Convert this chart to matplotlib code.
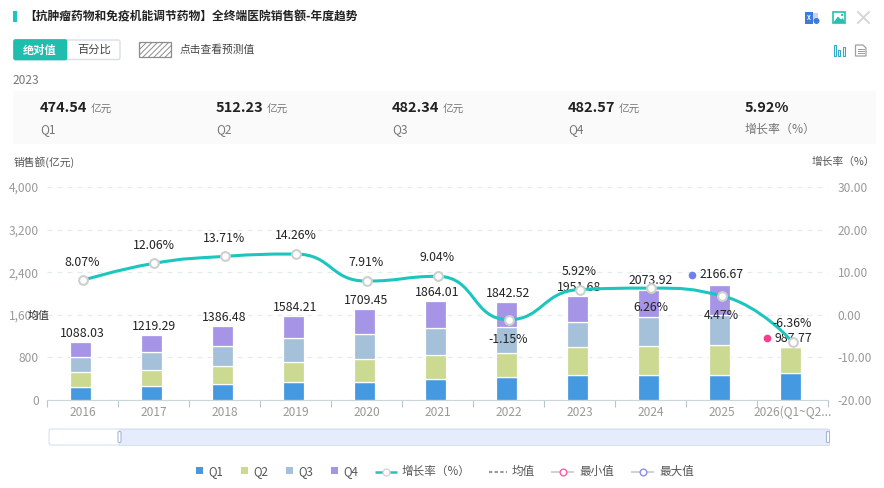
import numpy as np
import matplotlib
matplotlib.use("Agg")
import matplotlib.pyplot as plt
from matplotlib.patches import Rectangle, FancyBboxPatch, Circle, Polygon
from matplotlib.path import Path
from matplotlib.patches import PathPatch

plt.rcParams['font.family'] = ['Noto Sans CJK SC', 'DejaVu Sans']
plt.rcParams['hatch.linewidth'] = 0.7

# ---------- data ----------
years = ['2016', '2017', '2018', '2019', '2020', '2021', '2022', '2023', '2024', '2025', '2026(Q1~Q2...']
q1 = [245, 262, 300, 330, 340, 394, 432, 474.54, 465, 475, 505]
q2 = [275, 302, 345, 390, 425, 450, 457, 512.23, 553, 558, 482.77]
q3 = [290, 340, 376, 440, 470, 513, 488, 482.34, 535, 570, 0]
q4 = [278, 315.29, 365.48, 424.21, 474.45, 507.01, 465.52, 482.57, 520.92, 563.67, 0]
totals = ['1088.03', '1219.29', '1386.48', '1584.21', '1709.45', '1864.01', '1842.52',
          '1951.68', '2073.92', '2166.67', '987.77']
growth = [8.07, 12.06, 13.71, 14.26, 7.91, 9.04, -1.15, 5.92, 6.26, 4.47, -6.36]
left_ticks = [0, 800, 1600, 2400, 3200, 4000]
right_ticks = [-20, -10, 0, 10, 20, 30]
stat_values = ['474.54', '512.23', '482.34', '482.57', '5.92%']
stat_names = ['Q1', 'Q2', 'Q3', 'Q4', '增长率（%）']
mean_label = '均值'
TITLE = '【抗肿瘤药物和免疫机能调节药物】全终端医院销售额-年度趋势'

# ---------- style ----------
W, H = 884, 488
TEAL = '#1CC6BE'
BAR = ['#4599E0', '#CBD991', '#A5C0D9', '#A695E6']
GREY = '#999999'
DARK = '#222222'
def fs(px):
    return px * 0.72

fig = plt.figure(figsize=(W / 100, H / 100), dpi=100, facecolor='white')
L, R, T, B = 47, 828, 187, 400
ax = fig.add_axes([L / W, 1 - B / H, (R - L) / W, (B - T) / H], zorder=2)
ax.patch.set_alpha(0)
ax2 = ax.twinx()
ax2.set_zorder(3)
ax2.patch.set_alpha(0)

# ---------- bars ----------
x = np.arange(len(years))
bottom = np.zeros(len(years))
for vals, c in zip([q1, q2, q3, q4], BAR):
    v = np.array(vals, float)
    ax.bar(x - 0.03, v, 0.296, bottom=bottom, color=c, edgecolor='white', linewidth=0.9, zorder=3)
    bottom += v
ax.set_xlim(-0.5, len(years) - 0.5)
ax.set_ylim(0, 4000)
ax2.set_ylim(-20, 30)

ax.set_yticks(left_ticks)
ax.set_yticklabels([f'{t:,}' for t in left_ticks])
ax2.set_yticks(right_ticks)
ax2.set_yticklabels([f'{t:.2f}' for t in right_ticks])
ax.tick_params(axis='y', length=0, pad=6, labelsize=fs(12), labelcolor=GREY)
ax2.tick_params(axis='y', length=0, pad=7, labelsize=fs(12), labelcolor=GREY)
ax.set_xticks(x)
ax.set_xticklabels(years)
ax.tick_params(axis='x', length=0, pad=4, labelsize=fs(12), labelcolor=GREY)
ax.set_xticks(np.arange(len(years) + 1) - 0.5, minor=True)
ax.tick_params(axis='x', which='minor', length=5, width=0.8, color='#B9C6CC')
for a in (ax, ax2):
    for s in a.spines.values():
        s.set_visible(False)
ax.spines['bottom'].set_visible(True)
ax.spines['bottom'].set_color('#CBD6DA')
ax.grid(axis='y', color='#E6ECEC', linestyle=(0, (4, 4)), linewidth=0.9, zorder=0)
ax.set_axisbelow(True)

# ---------- smooth growth curve (ECharts style bezier through the points) ----------
sx = (R - L) / len(years)
sy = (B - T) / 50.0
def smooth_path(xs, ys, smooth=0.5):
    px = np.array(xs, float) * sx
    py = np.array(ys, float) * sy
    n = len(px)
    verts = [(px[0], py[0])]
    codes = [Path.MOVETO]
    cp0 = (px[0], py[0])
    for i in range(n - 1):
        if i + 2 < n:
            vx, vy = px[i + 2] - px[i], py[i + 2] - py[i]
            d0 = np.hypot(px[i + 1] - px[i], py[i + 1] - py[i])
            d1 = np.hypot(px[i + 2] - px[i + 1], py[i + 2] - py[i + 1])
            r = d1 / (d0 + d1)
            nx = px[i + 1] + vx * smooth * r
            ny = py[i + 1] + vy * smooth * r
            cx = px[i + 1] - vx * smooth * (1 - r)
            cy = py[i + 1] - vy * smooth * (1 - r)
            nx = np.clip(nx, min(px[i + 1], px[i + 2]), max(px[i + 1], px[i + 2]))
            ny = np.clip(ny, min(py[i + 1], py[i + 2]), max(py[i + 1], py[i + 2]))
            wx, wy = nx - px[i + 1], ny - py[i + 1]
            cx, cy = px[i + 1] - wx * d0 / d1, py[i + 1] - wy * d0 / d1
            cx = np.clip(cx, min(px[i], px[i + 1]), max(px[i], px[i + 1]))
            cy = np.clip(cy, min(py[i], py[i + 1]), max(py[i], py[i + 1]))
            wx, wy = px[i + 1] - cx, py[i + 1] - cy
            nx, ny = px[i + 1] + wx * d1 / d0, py[i + 1] + wy * d1 / d0
        else:
            cx, cy = px[i + 1], py[i + 1]
            nx, ny = cx, cy
        verts += [cp0, (cx, cy), (px[i + 1], py[i + 1])]
        codes += [Path.CURVE4] * 3
        cp0 = (nx, ny)
    verts = np.array(verts)
    verts[:, 0] /= sx
    verts[:, 1] /= sy
    return Path(verts, codes)

ax2.add_patch(PathPatch(smooth_path(x, growth), fill=False, edgecolor=TEAL, linewidth=2.2,
                        capstyle='round', zorder=4))
ax2.plot(x, growth, linestyle='none', marker='o', markersize=6.3, markerfacecolor='white',
         markeredgecolor='#CFCFCF', markeredgewidth=1.5, zorder=5)

# ---------- data labels ----------
imax = int(np.argmax([float(t) for t in totals]))
imin = int(np.argmin([float(t) for t in totals]))
top = np.array(q1) + np.array(q2) + np.array(q3) + np.array(q4)
for i, t in enumerate(totals):
    if i == imax:
        ax.annotate(t, (x[i], top[i]), xytext=(-16, 7), textcoords='offset points', ha='left',
                    va='center', fontsize=fs(12.3), color=DARK, zorder=6)
        ax.plot([x[i]], [top[i]], linestyle='none', marker='o', markersize=4.5, color='#6F7FF0',
                transform=ax.transData + matplotlib.transforms.ScaledTranslation(-30 / 100, 10 / 100, fig.dpi_scale_trans), zorder=6)
    elif i == imin:
        ax.annotate(t, (x[i], top[i]), xytext=(-13, 6.5), textcoords='offset points', ha='left',
                    va='center', fontsize=fs(12.3), color=DARK, zorder=6)
        ax.plot([x[i]], [top[i]], linestyle='none', marker='o', markersize=4.5, color='#F53F8C',
                transform=ax.transData + matplotlib.transforms.ScaledTranslation(-26 / 100, 9 / 100, fig.dpi_scale_trans), zorder=6)
    else:
        ax.annotate(t, (x[i], top[i]), xytext=(0, 6.2), textcoords='offset points', ha='center',
                    va='center', fontsize=fs(12.3), color=DARK, zorder=6)
below = {6, 8, 9}
for i, g in enumerate(growth):
    dy = -14 if i in below else 13.2
    ax2.annotate(f'{g:.2f}%', (x[i], g), xytext=(0, dy), textcoords='offset points', ha='center',
                 va='center', fontsize=fs(12.3), color=DARK, zorder=6)

# ---------- page furniture, in pixel coordinates ----------
ui = fig.add_axes([0, 0, 1, 1], zorder=1)
ui.set_xlim(0, W)
ui.set_ylim(H, 0)
ui.axis('off')
top_ui = fig.add_axes([0, 0, 1, 1], zorder=4)
top_ui.set_xlim(0, W)
top_ui.set_ylim(H, 0)
top_ui.axis('off')
top_ui.patch.set_alpha(0)

def txt(px, py, s, size, color=DARK, weight='normal', ha='left', z=5, a=None):
    (a or ui).text(px, py, s, fontsize=fs(size), color=color, fontweight=weight, ha=ha, va='center', zorder=z)

def rect(px0, py0, px1, py1, **kw):
    ui.add_patch(Rectangle((px0, py0), px1 - px0, py1 - py0, **kw))

rect(13, 11, 17, 22, color=TEAL, lw=0)
txt(24, 17, TITLE, 11.75, color='#222222', weight='bold')

# toggle
ui.add_patch(FancyBboxPatch((15, 40), 105, 19.5, boxstyle='round,pad=0,rounding_size=2',
                            fc='white', ec='#DADFE3', lw=1))
ui.add_patch(FancyBboxPatch((13.5, 39.5), 53.5, 20.5, boxstyle='round,pad=0,rounding_size=2',
                            fc='#1FBDAE', ec='#1FBDAE', lw=0.5))
txt(40, 50, '绝对值', 11.2, color='white', weight='bold', ha='center')
txt(94, 50, '百分比', 11.2, color='#444444', ha='center')
ui.add_patch(Rectangle((138.5, 41.5), 32, 15, fc='white', ec='#8C8C8C', lw=0.9, hatch='//////'))
txt(180, 50, '点击查看预测值', 10.7, color='#444444')
txt(13, 80, '2023', 12, color='#777777')

# summary band
rect(13, 91, 876, 144, color='#FAFAFA', lw=0)
cols = [40, 216, 392, 568, 745]
offs = [50, 50, 50, 50, None]
for cx, v, n, o in zip(cols, stat_values, stat_names, offs):
    txt(cx, 108.5, v, 14.5, color='#222222', weight='bold')
    if o:
        txt(cx + o + 1, 110, '亿元', 10.6, color='#777777')
    txt(cx, 129.5, n, 12, color='#777777')

# axis names
txt(14, 162, '销售额(亿元)', 10.7, color='#555555')
txt(812, 162, '增长率（%）', 10.7, color='#555555')
txt(28, 316, mean_label, 11, color='#333333', z=6, a=top_ui)

# zoom slider
ui.add_patch(FancyBboxPatch((49, 429), 780, 16, boxstyle='round,pad=0,rounding_size=2',
                            fc='white', ec='#DCE3F0', lw=0.9))
rect(119, 429.3, 829, 444.7, fc='#E5ECFB', ec='#D8E0F0', lw=0.7)
for hx in (119.5, 828):
    ui.add_patch(FancyBboxPatch((hx - 1.5, 431.5), 3, 11, boxstyle='round,pad=0,rounding_size=1',
                                fc='white', ec='#ABB6D2', lw=0.8))

# legend
lx = [196, 241, 286, 331]
for px, c, n in zip(lx, BAR, ['Q1', 'Q2', 'Q3', 'Q4']):
    rect(px, 467, px + 7, 474, color=c, lw=0)
    txt(px + 12, 471.5, n, 11.6, color='#555555')
ui.plot([375, 397], [471.5, 471.5], color=TEAL, lw=1.8, solid_capstyle='butt')
ui.plot([386], [471.5], 'o', ms=5, mfc='white', mec='#D5D5D5', mew=1)
txt(402, 471.5, '增长率（%）', 11.6, color='#555555')
ui.plot([489, 507], [471.5, 471.5], color='#999999', lw=1.5, linestyle=(0, (1.6, 1.1)))
txt(512, 471.5, '均值', 11.6, color='#555555')
for x0, mc, name in [(552, '#F5609F', '最小值'), (632, '#8C8CF0', '最大值')]:
    ui.plot([x0, x0 + 21], [471.5, 471.5], color='#D2D2D2', lw=1.5)
    ui.plot([x0 + 10.5], [471.5], 'o', ms=4.8, mfc='white', mec=mc, mew=1)
    txt(x0 + 27, 471.5, name, 11.6, color='#555555')

# toolbar icons
rect(805, 12, 813, 24, color='#3C7BDC', lw=0)
rect(813, 12.5, 817.5, 21, color='#C8D6F2', lw=0)
ui.add_patch(Circle((816.5, 21), 3, color='#3C7BDC', lw=0))
txt(809, 18, 'X', 6, color='white', weight='bold', ha='center')
rect(832.5, 11.5, 845, 23, fc='white', ec='#27BFAE', lw=1.2)
ui.add_patch(Polygon([(833, 23), (838, 16.5), (841, 19.5), (843, 18), (845, 23)], color='#27BFAE', lw=0))
ui.add_patch(Circle((842, 15), 1.1, color='#27BFAE', lw=0))
ui.plot([858, 869], [12, 23], color='#D6D6D6', lw=1.4)
ui.plot([869, 858], [12, 23], color='#D6D6D6', lw=1.4)
rect(833, 56.5, 845.5, 57.2, color='#79B8E6', lw=0)
for bx, by in [(833.5, 45), (838, 50), (842.5, 47)]:
    rect(bx, by, bx + 2.4, 55.5, fc='white', ec='#33A8C8', lw=0.8)
ui.add_patch(Polygon([(855.5, 45), (863, 45), (866, 48), (866, 56), (855.5, 56)], fc='white', ec='#A0A0A0', lw=0.9))
for yy in (48.5, 50.5, 52.5):
    ui.plot([857.5, 864], [yy, yy], color='#9A9A9A', lw=0.7)

fig.savefig('out.png', dpi=100)
